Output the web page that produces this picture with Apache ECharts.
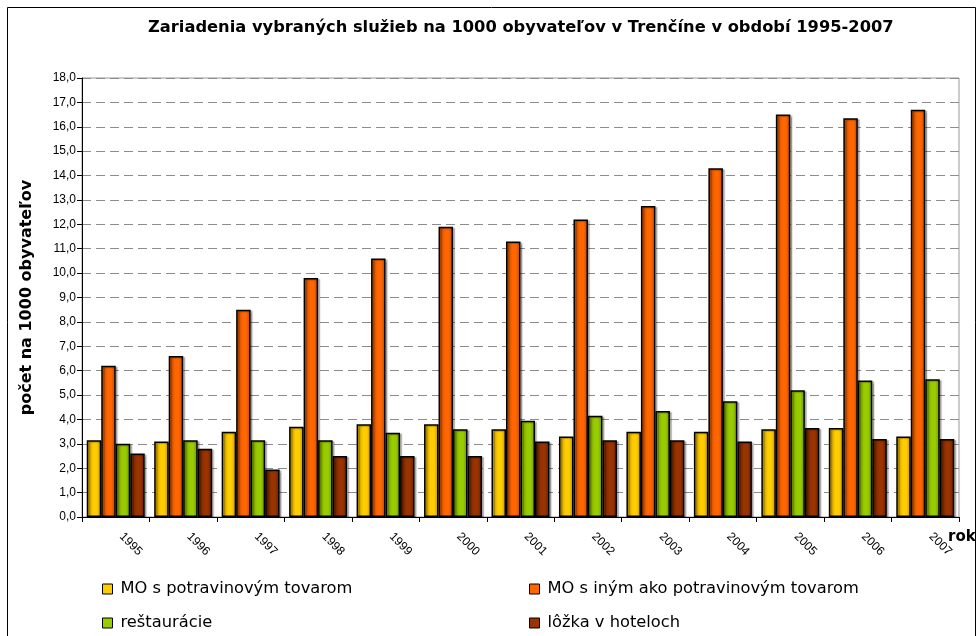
<!DOCTYPE html>
<html>
<head>
<meta charset="utf-8">
<script src="https://cdn.jsdelivr.net/npm/echarts@6/dist/echarts.min.js"></script>
<style>html,body{margin:0;padding:0;background:#fff;}#c{width:978px;height:636px;}</style>
</head>
<body>
<div id="c"></div>
<script>
const titleText = 'Zariadenia vybraných služieb na 1000 obyvateľov v Trenčíne v období 1995-2007';
const yAxisName = 'počet na 1000 obyvateľov';
const xAxisName = 'rok';
const years = ['1995','1996','1997','1998','1999','2000','2001','2002','2003','2004','2005','2006','2007'];
const seriesNames = ['MO s potravinovým tovarom','MO s iným ako potravinovým tovarom','reštaurácie','lôžka v hoteloch'];
const moPotraviny = [3.15,3.1,3.5,3.7,3.8,3.8,3.6,3.3,3.5,3.5,3.6,3.65,3.3];
const moIne = [6.2,6.6,8.5,9.8,10.6,11.9,11.3,12.2,12.75,14.3,16.5,16.35,16.7];
const restauracie = [3.0,3.15,3.15,3.15,3.45,3.6,3.95,4.15,4.35,4.75,5.2,5.6,5.65];
const lozka = [2.6,2.8,1.95,2.5,2.5,2.5,3.1,3.15,3.15,3.1,3.65,3.2,3.2];

const baseColors = ['#FFCC00','#FF6600','#99CC00','#993300'];
const darkColors = ['#B88F00','#B34700','#6A8F00','#5E1F00'];
const allData = [moPotraviny, moIne, restauracie, lozka];

function grad(i){
  return new echarts.graphic.LinearGradient(0,0,1,0,[
    {offset:0,color:darkColors[i]},
    {offset:0.45,color:baseColors[i]},
    {offset:0.7,color:baseColors[i]},
    {offset:1,color:darkColors[i]}
  ]);
}

const chart = echarts.init(document.getElementById('c'));
const font = 'Liberation Sans, Arial, sans-serif';
const wide = 'DejaVu Sans, sans-serif';
// legend positions: [series index, left, top]
const legendPos = [[0,102,581],[2,102,615],[1,529,581],[3,529,615]];
chart.setOption({
  animation:false,
  textStyle:{fontFamily:font},
  title:[
    {text:titleText,left:148,top:20,padding:0,textStyle:{fontFamily:wide,fontSize:16.3,fontWeight:'bold',color:'#000'}},
    {text:xAxisName,left:948,top:530,padding:0,textStyle:{fontFamily:wide,fontSize:15,fontWeight:'bold',color:'#000'}}
  ],
  graphic:[{type:'rect',shape:{x:7.5,y:7.5,width:968,height:700},style:{fill:'none',stroke:'#000',lineWidth:1}}],
  grid:{left:82,right:19,top:78,bottom:119,show:true,borderColor:'#999',borderWidth:1,backgroundColor:'#fff'},
  legend:legendPos.map(p=>({
    left:p[1],top:p[2],padding:0,itemWidth:10,itemHeight:10,icon:'rect',
    textStyle:{fontFamily:wide,fontSize:16.3,color:'#000',padding:[0,0,0,3]},
    data:[{name:seriesNames[p[0]],itemStyle:{color:baseColors[p[0]],borderColor:'#000',borderWidth:1}}]
  })),
  xAxis:{
    type:'category',data:years,
    axisLine:{lineStyle:{color:'#000',width:1}},
    axisTick:{show:true,length:5,lineStyle:{color:'#000'}},
    axisLabel:{rotate:-45,margin:12,padding:[0,0,0,8],fontSize:12,color:'#000',fontFamily:font,interval:0},
    splitLine:{show:false}
  },
  yAxis:{
    type:'value',min:0,max:18,interval:1,
    name:yAxisName,nameLocation:'middle',nameGap:47,nameRotate:90,
    nameTextStyle:{fontFamily:wide,fontSize:16,fontWeight:'bold',color:'#000'},
    axisLine:{show:true,lineStyle:{color:'#000',width:1}},
    axisTick:{show:true,length:5,lineStyle:{color:'#000'}},
    axisLabel:{fontSize:12,color:'#000',fontFamily:font,margin:6,formatter:v=>v.toFixed(1).replace('.',',')},
    splitLine:{show:true,lineStyle:{color:'#8c8c8c',type:[9,5],width:1}}
  },
  series:allData.map((d,i)=>({
    name:seriesNames[i],type:'bar',data:d,barWidth:14.5,barGap:'0%',
    itemStyle:{color:grad(i),borderColor:'#000',borderWidth:1.5,shadowColor:'rgba(0,0,0,0.25)',shadowOffsetX:2,shadowOffsetY:1,shadowBlur:1}
  }))
});
</script>
</body>
</html>
